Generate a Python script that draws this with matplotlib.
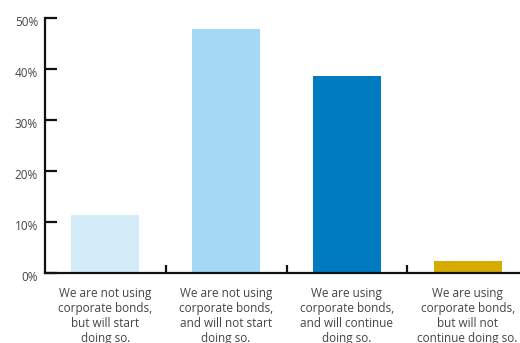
import matplotlib
matplotlib.use("Agg")
import matplotlib.pyplot as plt
from matplotlib.ticker import FuncFormatter
from matplotlib.transforms import ScaledTranslation

categories = [
    "We are not using\ncorporate bonds,\nbut will start\ndoing so.",
    "We are not using\ncorporate bonds,\nand will not start\ndoing so.",
    "We are using\ncorporate bonds,\nand will continue\ndoing so.",
    "We are using\ncorporate bonds,\nbut will not\ncontinue doing so.",
]
shares = [11.4, 47.8, 38.6, 2.35]
colors = ["#D4EBF8", "#A3D9F2", "#007AC0", "#D6AC00"]
y_ticks = [0, 10, 20, 30, 40, 50]

plt.rcParams["font.family"] = ["Open Sans", "DejaVu Sans"]

fig = plt.figure(figsize=(5.2, 3.43), dpi=100)
ax = fig.add_axes([45 / 520, 70 / 343, 483 / 520, 255 / 343])

x = list(range(len(categories)))
ax.bar(x, shares, width=0.565, color=colors, zorder=1)

ax.set_xlim(-0.5, 3.5)
ax.set_ylim(0, 50)

for side in ("top", "right"):
    ax.spines[side].set_visible(False)
for side in ("left", "bottom"):
    ax.spines[side].set_linewidth(1.6)
    ax.spines[side].set_color("#111111")
    ax.spines[side].set_zorder(3)

ax.set_yticks(y_ticks)
ax.yaxis.set_major_formatter(FuncFormatter(lambda v, _: f"{v:.0f}%"))
ax.tick_params(axis="y", direction="in", length=8.5, width=1.6, color="#111111",
               labelsize=8.5, labelcolor="#444444", pad=5)
shift = ScaledTranslation(0, -3 / 100, fig.dpi_scale_trans)
for lbl in ax.get_yticklabels():
    lbl.set_transform(lbl.get_transform() + shift)

# category boundaries carry the x ticks, labels sit centred under each bar
ax.set_xticks([0.5, 1.5, 2.5])
ax.set_xticklabels([])
ax.tick_params(axis="x", direction="in", length=6, width=1.6, color="#111111")
for xi, label in zip(x, categories):
    ax.text(xi, -2.8, label, ha="center", va="top", fontsize=8.5,
            color="#444444", linespacing=1.2, clip_on=False)

fig.savefig("out.png", dpi=100)
